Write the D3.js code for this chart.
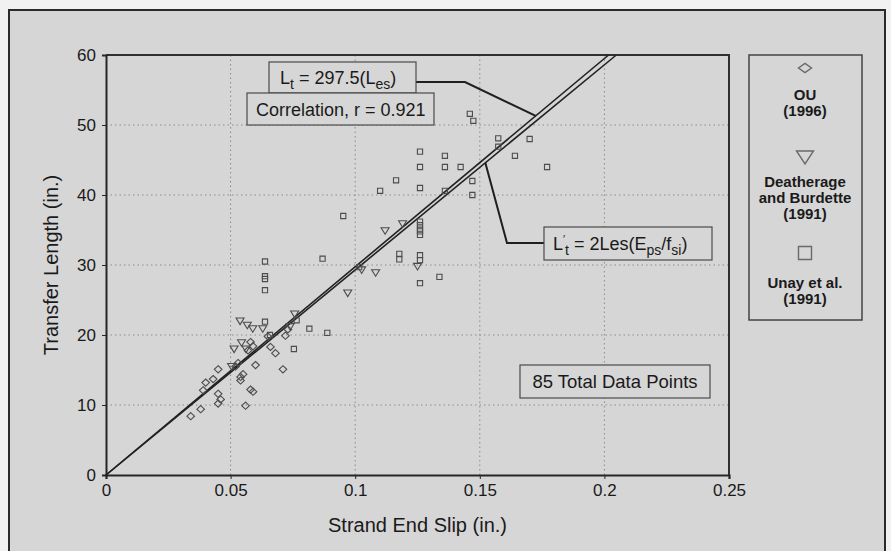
<!DOCTYPE html>
<html lang="en">
<head>
  <meta charset="UTF-8">
  <style>
    body { margin: 0; background: #f1f1f1; }
    svg text { font-family: "Liberation Sans", Arial, sans-serif; fill: #1a1a1a; }
    .grid line { stroke: #8c8c8c; stroke-width: 1; stroke-dasharray: 1.5,3; }
    .axis path, .axis line { stroke: #262626; }
    .axis text { font-size: 17px; }
    .box rect { fill: #d6d6d6; stroke: #4a4a4a; stroke-width: 1.2; }
    .leader { fill: none; stroke: #1f1f1f; stroke-width: 2; }
    .fit { stroke: #222; stroke-width: 1.6; fill: none; }
    .mark { fill: none; stroke: #4c4c4c; stroke-width: 1.1; }
    .legend text { font-size: 15px; font-weight: bold; }
    .legend .mark { stroke: #6a6a6a; stroke-width: 1.4; }
  </style>
  <script src="https://d3js.org/d3.v7.min.js"></script>
</head>
<body>
<svg id="chart"></svg>
<script>
// OU (1996) - diamonds
var ouData = [
  [0.034, 8.4], [0.038, 9.4], [0.039, 12.1], [0.040, 13.2], [0.043, 13.7],
  [0.045, 15.1], [0.045, 11.6], [0.046, 10.8], [0.045, 10.2], [0.053, 16.0],
  [0.054, 14.0], [0.054, 13.5], [0.055, 14.4], [0.056, 9.9], [0.058, 12.2],
  [0.059, 11.9], [0.060, 15.7], [0.058, 19.0], [0.059, 18.4], [0.066, 18.3],
  [0.068, 17.4], [0.071, 15.1], [0.072, 19.9], [0.052, 15.5], [0.057, 17.8],
  [0.065, 19.8], [0.073, 20.8]
];
// Deatherage and Burdette (1991) - triangles
var dbData = [
  [0.0538, 22.0], [0.0567, 21.4], [0.0589, 20.9], [0.0629, 20.9], [0.0544, 18.9],
  [0.0562, 18.0], [0.0514, 18.0], [0.0504, 15.5], [0.0757, 23.0], [0.0739, 21.2],
  [0.097, 26.0], [0.1082, 28.9], [0.112, 34.9], [0.119, 35.9], [0.125, 29.8],
  [0.1026, 29.3]
];
// Unay et al. (1991) - squares
var unayData = [
  [0.0638, 21.9], [0.0638, 30.5], [0.0638, 28.4], [0.0638, 28.0], [0.0638, 26.4],
  [0.0816, 20.9], [0.0888, 20.3], [0.0754, 18.0], [0.0869, 30.9], [0.0952, 37.0],
  [0.110, 40.6], [0.1164, 42.1], [0.1177, 31.6], [0.1177, 30.8], [0.126, 46.2],
  [0.126, 44.0], [0.126, 41.0], [0.126, 36.2], [0.126, 35.7], [0.126, 35.2],
  [0.126, 34.8], [0.126, 34.3], [0.126, 31.4], [0.126, 30.7], [0.126, 27.4],
  [0.136, 45.6], [0.136, 44.0], [0.1423, 44.0], [0.136, 40.6], [0.1338, 28.3],
  [0.146, 51.6], [0.1474, 50.6], [0.147, 42.0], [0.147, 40.0], [0.1574, 48.1],
  [0.1574, 46.9], [0.1641, 45.6], [0.170, 48.0], [0.177, 44.0], [0.0765, 22.1],
  [0.0658, 20.0], [0.1016, 29.7]
];
var xTicks = [0, 0.05, 0.1, 0.15, 0.2, 0.25];
var yTicks = [0, 10, 20, 30, 40, 50, 60];
// fitted lines through origin, Lt = slope * Les
var fitSlopes = [297.5, 293];

var size = { width: 891, height: 551 };
var margin = { top: 55, right: 162, bottom: 76, left: 106 };

var svg = d3.select('#chart')
  .attr('width', size.width)
  .attr('height', size.height);

// outer frame
svg.append('rect')
  .attr('x', 9).attr('y', 10)
  .attr('width', 876).attr('height', 560)
  .attr('fill', '#d6d6d6')
  .attr('stroke', '#2a2a2a')
  .attr('stroke-width', 2);

var xScale = d3.scaleLinear()
  .domain([0, 0.25])
  .range([margin.left, size.width - margin.right]);
var yScale = d3.scaleLinear()
  .domain([0, 60])
  .range([size.height - margin.bottom, margin.top]);

// grid
var grid = svg.append('g').attr('class', 'grid');
grid.selectAll('.gx')
  .data(xTicks.slice(1, -1))
  .enter().append('line')
  .attr('x1', function(d) { return xScale(d); })
  .attr('x2', function(d) { return xScale(d); })
  .attr('y1', yScale(0)).attr('y2', yScale(60));
grid.selectAll('.gy')
  .data(yTicks.slice(1, -1))
  .enter().append('line')
  .attr('y1', function(d) { return yScale(d); })
  .attr('y2', function(d) { return yScale(d); })
  .attr('x1', xScale(0)).attr('x2', xScale(0.25));

// plot border (top / right)
svg.append('path')
  .attr('d', 'M' + xScale(0) + ',' + yScale(60) + 'H' + xScale(0.25) + 'V' + yScale(0))
  .attr('fill', 'none')
  .attr('stroke', '#303030')
  .attr('stroke-width', 2);

var xAxis = d3.axisBottom(xScale)
  .tickValues(xTicks)
  .tickSize(4)
  .tickPadding(5)
  .tickFormat(function(d) { return d === 0 ? '0' : String(d); });
var yAxis = d3.axisLeft(yScale)
  .tickValues(yTicks)
  .tickSize(4)
  .tickPadding(6)
  .tickFormat(d3.format('d'));

var gx = svg.append('g')
  .attr('class', 'axis')
  .attr('transform', 'translate(0,' + yScale(0) + ')')
  .call(xAxis);
gx.select('.domain').attr('stroke-width', 2.2);
gx.selectAll('text').attr('fill', '#1a1a1a');

var gy = svg.append('g')
  .attr('class', 'axis')
  .attr('transform', 'translate(' + xScale(0) + ',0)')
  .call(yAxis);
gy.select('.domain').attr('stroke-width', 2);
gy.selectAll('text').attr('fill', '#1a1a1a');

// axis titles
svg.append('text')
  .attr('x', (xScale(0) + xScale(0.25)) / 2)
  .attr('y', 532)
  .attr('text-anchor', 'middle')
  .style('font-size', '20px')
  .text('Strand End Slip (in.)');

svg.append('text')
  .attr('transform', 'translate(58,' + (yScale(0) + yScale(60)) / 2 + ') rotate(-90)')
  .attr('text-anchor', 'middle')
  .style('font-size', '20px')
  .text('Transfer Length (in.)');

// fit lines
svg.selectAll('.fit')
  .data(fitSlopes)
  .enter().append('line')
  .attr('class', 'fit')
  .attr('x1', xScale(0)).attr('y1', yScale(0))
  .attr('x2', function(d) { return xScale(60 / d); })
  .attr('y2', yScale(60));

// markers
var diamond = 'M0,-3.6L3.8,0L0,3.6L-3.8,0Z';
var triangle = 'M-4,-3L4,-3L0,3.6Z';
var square = 'M-2.6,-2.6H2.6V2.6H-2.6Z';

function drawMarks(data, shape) {
  svg.append('g').selectAll('path')
    .data(data)
    .enter().append('path')
    .attr('class', 'mark')
    .attr('d', shape)
    .attr('transform', function(d) {
      return 'translate(' + xScale(d[0]) + ',' + yScale(d[1]) + ')';
    });
}
drawMarks(ouData, diamond);
drawMarks(dbData, triangle);
drawMarks(unayData, square);

// leader lines to fit lines
var lead1Y = 51.3;
svg.append('path')
  .attr('class', 'leader')
  .attr('d', 'M416,82H465L' + xScale(lead1Y / fitSlopes[0]) + ',' + yScale(lead1Y));
var lead2Y = 44.6;
svg.append('path')
  .attr('class', 'leader')
  .attr('d', 'M545,243H507L' + xScale(lead2Y / fitSlopes[1]) + ',' + yScale(lead2Y));

// annotation boxes
function box(x, y, w, h) {
  var g = svg.append('g').attr('class', 'box');
  g.append('rect').attr('x', x).attr('y', y).attr('width', w).attr('height', h);
  return g.append('text').style('font-size', '18px');
}

var t1 = box(269, 62, 147, 31).attr('x', 280).attr('y', 84);
t1.append('tspan').text('L');
t1.append('tspan').attr('dy', 5).style('font-size', '14px').text('t');
t1.append('tspan').attr('dy', -5).text(' = 297.5(L');
t1.append('tspan').attr('dy', 5).style('font-size', '14px').text('es');
t1.append('tspan').attr('dy', -5).text(')');

box(247, 93, 187, 32).attr('x', 256).attr('y', 116).text('Correlation, r = 0.921');

var t2 = box(544, 227, 168, 33).attr('x', 553).attr('y', 250);
t2.append('tspan').text('L');
t2.append('tspan').attr('dy', -7).style('font-size', '11px').text('\u2032');
t2.append('tspan').attr('dy', 12).style('font-size', '14px').text('t');
t2.append('tspan').attr('dy', -5).text(' = 2Les(E');
t2.append('tspan').attr('dy', 5).style('font-size', '14px').text('ps');
t2.append('tspan').attr('dy', -5).text('/f');
t2.append('tspan').attr('dy', 5).style('font-size', '14px').text('si');
t2.append('tspan').attr('dy', -5).text(')');

box(520, 365, 190, 33).attr('x', 615).attr('y', 388)
  .attr('text-anchor', 'middle').style('font-size', '18.5px').text('85 Total Data Points');

// legend
var legendItems = [
  { shape: 'M0,-4.6L6.5,0L0,4.6L-6.5,0Z', y: 68, lines: ['OU', '(1996)'], ty: 100 },
  { shape: 'M-8.5,-6L8.5,-6L0,7Z', y: 157, lines: ['Deatherage', 'and Burdette', '(1991)'], ty: 187 },
  { shape: 'M-6.5,-6.5H6.5V6.5H-6.5Z', y: 253, lines: ['Unay et al.', '(1991)'], ty: 288 }
];
var legend = svg.append('g').attr('class', 'legend');
legend.append('rect')
  .attr('x', 749).attr('y', 55)
  .attr('width', 113).attr('height', 265)
  .attr('fill', '#d6d6d6')
  .attr('stroke', '#444')
  .attr('stroke-width', 1.5);
legendItems.forEach(function(item) {
  legend.append('path')
    .attr('class', 'mark')
    .attr('d', item.shape)
    .attr('transform', 'translate(805,' + item.y + ')');
  legend.append('g').selectAll('text')
    .data(item.lines)
    .enter().append('text')
    .attr('x', 805)
    .attr('y', function(d, i) { return item.ty + i * 16; })
    .attr('text-anchor', 'middle')
    .text(function(d) { return d; });
});
</script>
</body>
</html>
